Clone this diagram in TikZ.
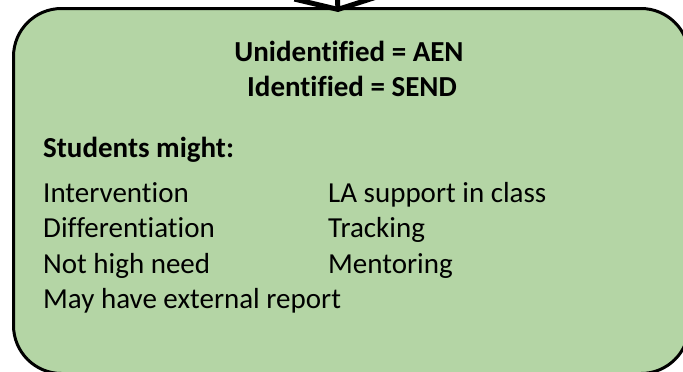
\documentclass[tikz,border=0pt]{standalone}
\usepackage{fontspec}
\setmainfont[Ligatures=NoCommon]{Carlito}
\usetikzlibrary{arrows.meta}
\definecolor{boxgreen}{RGB}{180,213,165}
\tikzset{
  txt/.style={anchor=base west, inner sep=0pt, font=\fontsize{29}{35}\selectfont},
  boldtxt/.style={txt, font=\fontsize{29}{35}\selectfont\bfseries},
  head/.style={anchor=base, inner sep=0pt, font=\fontsize{29}{35}\selectfont\bfseries},
}
\begin{document}
\begin{tikzpicture}[x=1pt,y=-1pt]
  \useasboundingbox (0,0) rectangle (683,372);
  \node[draw, line width=3pt, fill=boxgreen, rounded corners=48pt, outer sep=0pt, inner sep=0pt,
    minimum width=675.5pt, minimum height=365pt, anchor=north west] (box) at (13.5,8.5) {};
  \coordinate (tip) at (338,12);
  \coordinate (src) at (336,-40);
  \draw[line width=5pt, -{Straight Barb[length=12pt,width=86pt]}] (src) -- (tip);
  \node[head] (unident) at (349,61) {Unidentified = AEN};
  \node[head] (ident) at (352,96) {Identified = SEND};
  \node[boldtxt] (might) at (43,157) {Students might:};
  \node[txt] (interv) at (43,202) {Intervention};
  \node[txt] (diff) at (43,237.5) {Differentiation};
  \node[txt] (notneed) at (43,273) {Not high need};
  \node[txt] (report) at (43,308) {May have external report};
  \node[txt] (lasupport) at (328,202) {LA support in class};
  \node[txt] (tracking) at (328,237.5) {Tracking};
  \node[txt] (mentor) at (328,273) {Mentoring};
\end{tikzpicture}
\end{document}
